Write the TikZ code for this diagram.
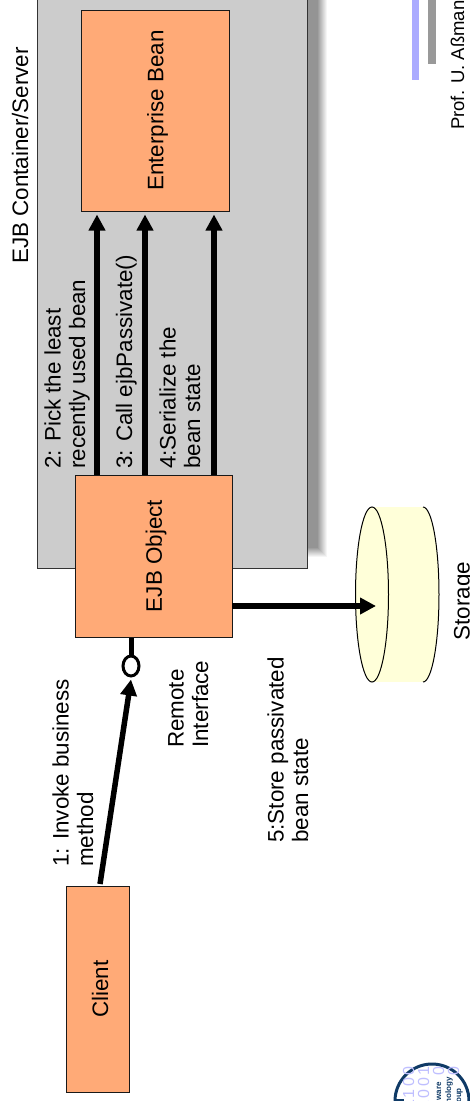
\documentclass[tikz,border=0pt]{standalone}
\usepackage{fontspec}
\setmainfont{Liberation Sans}
\newfontfamily\bitfont[LetterSpace=17]{Liberation Sans}
\usetikzlibrary{positioning,arrows.meta,calc,shapes.geometric}
\definecolor{boxorange}{HTML}{FFAA77}
\definecolor{storageyellow}{HTML}{FFFFD9}
\definecolor{logoblue}{HTML}{0F3A66}
\tikzset{
    component/.style={draw=black!90, line width=1pt, fill=boxorange, font=\fontsize{22.4}{25}\selectfont},
    container/.style={draw=black!80, line width=1pt, fill=black!20},
    flow/.style={line width=5.5pt, -{Triangle[length=16pt,width=16pt]}},
    stepnote/.style={font=\fontsize{22.4}{24.5}\selectfont, rotate=90, anchor=base west, align=left, inner sep=0pt},
    binary/.style={font=\bitfont\fontsize{16}{16}\selectfont, text=blue!25!white, rotate=90, anchor=base east, inner sep=0pt},
    groupname/.style={font=\fontsize{8}{8}\selectfont\bfseries, text=logoblue, rotate=90, anchor=base east, inner sep=0pt}
}
\newcommand{\turned}[1]{\hspace*{5pt}\rotatebox{90}{#1}}
\begin{document}
\begin{tikzpicture}[x=1pt,y=1pt]
    \useasboundingbox (0,0) rectangle (470,-1101);
    \clip (0,0) rectangle (470,-1101);

    % --- Slide marks ---
    \fill[blue!33!white] (412,5) rectangle (419,-80);
    \fill[black!40] (428,5) rectangle (436,-64);
    \node[stepnote, font=\fontsize{18.5}{20}\selectfont] (author) at (464,-130) {Prof. U. Aßmann};

    % --- Container and its shadow ---
    \foreach \i in {0,...,9}{
        \pgfmathsetmacro{\lev}{4+4.2*\i}
        \fill[black!\lev] (100,5) rectangle ({327-\i},{-557+\i});
    }
    \node (server) [container, minimum width=270pt, minimum height=579pt, anchor=south west] at (37,-569) {};
    \node[stepnote] (serverlabel) at (28,-264) {EJB Container/Server};

    % --- Components ---
    \node (bean) [component, minimum width=148pt, minimum height=201pt] at (155,-110.5) {\turned{Enterprise Bean}};
    \node (ejbobject) [component, minimum width=157pt, minimum height=162pt] at (153.5,-556) {\turned{EJB Object}};
    \node (client) [component, minimum width=63pt, minimum height=206pt] at (97.5,-989) {\turned{Client}};

    % --- Storage ---
    \fill[storageyellow] (372,-507) rectangle (423,-682);
    \draw[line width=1pt, fill=storageyellow] (423,-507) arc[start angle=90, end angle=-90, x radius=16, y radius=87.5];
    \node (storage) [ellipse, draw, line width=1pt, fill=storageyellow, inner sep=0pt, minimum width=33pt, minimum height=175pt] at (372,-594.5) {};
    \node[stepnote, anchor=base] (storagelabel) at (469.5,-601) {Storage};

    % --- Remote interface ---
    \node (iface) [ellipse, draw, line width=3pt, fill=white, inner sep=0pt, minimum width=16pt, minimum height=20pt] at (131,-666) {};
    \draw[line width=5pt] (iface.north) -- (iface.north |- ejbobject.south);
    \node[stepnote] (ifacelabel) at (208,-748) {Remote\\Interface};

    % --- Calls ---
    \coordinate (picka) at (97,0);
    \coordinate (pickb) at (145,0);
    \coordinate (pickc) at (214,0);
    \foreach \p in {picka,pickb,pickc}{
        \draw[flow, shorten >=3pt] (\p |- ejbobject.north) -- (\p |- bean.south);
    }
    \coordinate (clientout) at (100,-884);
    \coordinate (storeout) at (232,-606);
    \draw[flow] (clientout) -- ($(iface.south)+(0,-2)$);
    \draw[flow] (storeout) -- (storeout -| {$(storage.center)+(4,0)$});

    % --- Call labels ---
    \node[stepnote] (pickhint) at (85,-469) {2: Pick the least\\recently used bean};
    \node[stepnote] (callhint) at (132,-469) {3: Call ejbPassivate()};
    \node[stepnote] (serialhint) at (200,-469) {4:Serialize the\\bean state};
    \node[stepnote] (invokehint) at (93,-867) {1: Invoke business\\method};
    \node[stepnote] (storehint) at (308,-843) {5:Store passivated\\bean state};

    % --- Logo ---
    \node (logo) [circle, draw=logoblue, line width=3pt, minimum size=74pt, inner sep=0pt] at (432,-1101) {};
    \draw[logoblue, line width=2pt] ($(logo.west)+(0,1)$) -- +(10,0);
    \node[binary] (bita) at (414,-1066) {1100};
    \node[binary] (bitb) at (429,-1066) {1001};
    \node[binary] (bitc) at (444,-1066) {0};
    \node[binary] (bitd) at (459,-1066) {0};
    \node[groupname] (grpa) at (441,-1082) {ware};
    \node[groupname] (grpb) at (451,-1077) {nology};
    \node[groupname] (grpc) at (461,-1088) {oup};
\end{tikzpicture}
\end{document}
